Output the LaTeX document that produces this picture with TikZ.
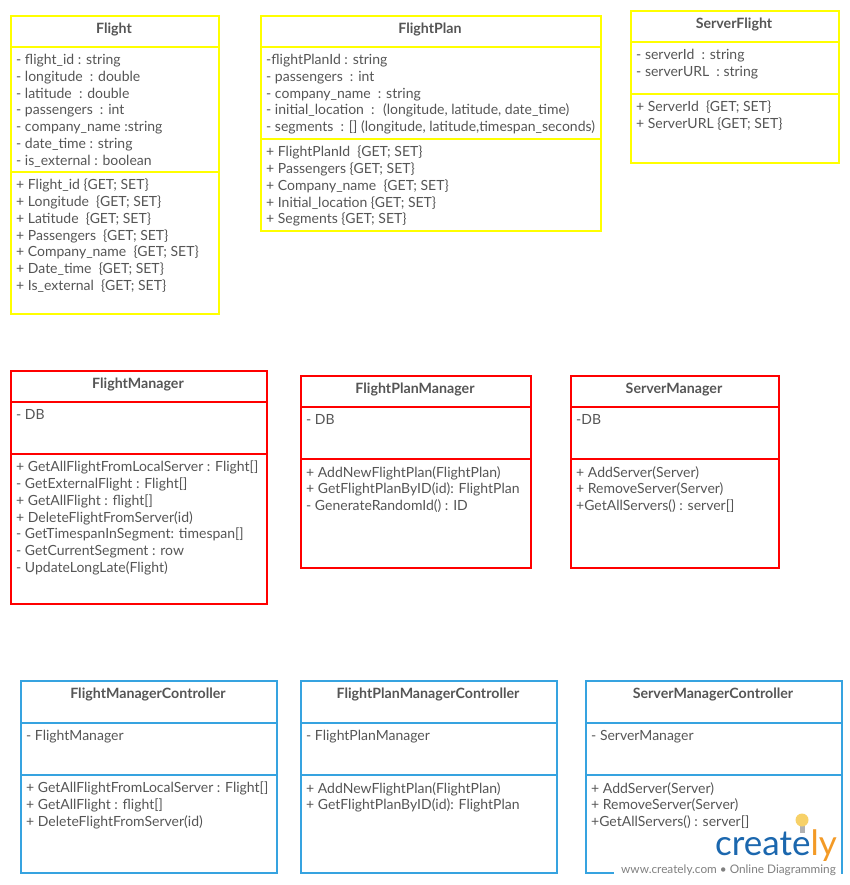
\documentclass[tikz,border=0pt]{standalone}
\usepackage{fontspec}
\setmainfont{Lato}
\usetikzlibrary{calc}
\definecolor{txtgray}{HTML}{555555}
\definecolor{flightyellow}{HTML}{FFFF00}
\definecolor{managerred}{HTML}{FF0000}
\definecolor{ctrlblue}{HTML}{36A3E0}
\definecolor{logoblue}{HTML}{1B67AE}
\definecolor{logoorange}{HTML}{F39A26}
\definecolor{bulbyellow}{HTML}{F7D168}
\tikzset{%
rowtext/.style={anchor=north west,align=left,inner sep=0pt,text=txtgray,font=\fontsize{14}{16.75}\selectfont},
titletext/.style={anchor=base,inner sep=0pt,text=txtgray,font=\fontsize{14.2}{16.8}\selectfont\bfseries},
pics/.cd,
umlclass/.style args={#1#2#3#4#5#6#7}{
  code={\node[draw=#1,line width=2pt,minimum width=#4pt,minimum height=#5pt,inner sep=0pt,outer sep=0pt,anchor=north west] (#2) at (0,0) {};
       \draw[#1,line width=2pt] ($(#2.north west)+(0,-#6pt)$) coordinate (#2a) -- (#2a -| #2.east);
       \draw[#1,line width=2pt] ($(#2.north west)+(0,-#7pt)$) coordinate (#2b) -- (#2b -| #2.east);
       \node[titletext] (#2t) at ($(#2.north)+(-1pt,-17.5pt)$) {#3};
  }
},
}
\begin{document}
\begin{tikzpicture}[x=1pt,y=-1pt]
    \useasboundingbox (0,0) rectangle (850,885);
    % data classes
    \pic at (11,16) {umlclass={flightyellow}{flight}{Flight}{208}{298}{31}{156}};
    \pic at (261,16) {umlclass={flightyellow}{plan}{FlightPlan}{340}{215}{31}{123}};
    \pic at (631,11) {umlclass={flightyellow}{server}{ServerFlight}{208}{152}{31}{83}};
    \node[rowtext] (flightr) at ($(flighta)+(5pt,-7pt)$) {- flight\_id : string\\- longitude~ : double\\- latitude~ : double\\- passengers~ : int\\- company\_name :string\\- date\_time : string\\- is\_external : boolean};
    \node[rowtext] (flights) at ($(flightb)+(5pt,-7pt)$) {+ Flight\_id \{GET; SET\}\\+ Longitude~ \{GET; SET\}\\+ Latitude~ \{GET; SET\}\\+ Passengers~ \{GET; SET\}\\+ Company\_name~ \{GET; SET\}\\+ Date\_time~ \{GET; SET\}\\+ Is\_external~ \{GET; SET\}};
    \node[rowtext] (planr) at ($(plana)+(5pt,-7pt)$) {-flightPlanId : string\\- passengers~ : int\\- company\_name~ : string\\- initial\_location~ :~ (longitude, latitude, date\_time)\\- segments~ : [] (longitude, latitude,timespan\_seconds)};
    \node[rowtext] (plans) at ($(planb)+(5pt,-7pt)$) {+ FlightPlanId~ \{GET; SET\}\\+ Passengers \{GET; SET\}\\+ Company\_name~ \{GET; SET\}\\+ Initial\_location \{GET; SET\}\\+ Segments \{GET; SET\}};
    \node[rowtext] (serverr) at ($(servera)+(5pt,-7pt)$) {- serverId~ : string\\- serverURL~ : string};
    \node[rowtext] (servers) at ($(serverb)+(5pt,-7pt)$) {+ ServerId~ \{GET; SET\}\\+ ServerURL \{GET; SET\}};
    % managers
    \pic at (11,371) {umlclass={managerred}{flightmgr}{FlightManager}{256}{233}{31}{83}};
    \pic at (301,376) {umlclass={managerred}{planmgr}{FlightPlanManager}{230}{192}{31}{83}};
    \pic at (571,376) {umlclass={managerred}{servermgr}{ServerManager}{208}{192}{31}{83}};
    \node[rowtext] (flightmgrr) at ($(flightmgra)+(5pt,-7pt)$) {- DB};
    \node[rowtext] (flightmgrs) at ($(flightmgrb)+(5pt,-7pt)$) {+ GetAllFlightFromLocalServer : Flight[]\\- GetExternalFlight : Flight[]\\+ GetAllFlight : flight[]\\+ DeleteFlightFromServer(id)\\- GetTimespanInSegment: timespan[]\\- GetCurrentSegment : row\\- UpdateLongLate(Flight)};
    \node[rowtext] (planmgrr) at ($(planmgra)+(5pt,-7pt)$) {- DB};
    \node[rowtext] (planmgrs) at ($(planmgrb)+(5pt,-7pt)$) {+ AddNewFlightPlan(FlightPlan)\\+ GetFlightPlanByID(id): FlightPlan\\- GenerateRandomId() : ID};
    \node[rowtext] (servermgrr) at ($(servermgra)+(5pt,-7pt)$) {-DB};
    \node[rowtext] (servermgrs) at ($(servermgrb)+(5pt,-7pt)$) {+ AddServer(Server)\\+ RemoveServer(Server)\\+GetAllServers() : server[]};
    % controllers
    \pic at (21,681) {umlclass={ctrlblue}{flightctrl}{FlightManagerController}{256}{192}{42}{94}};
    \pic at (301,681) {umlclass={ctrlblue}{planctrl}{FlightPlanManagerController}{256}{192}{42}{94}};
    \pic at (586,681) {umlclass={ctrlblue}{serverctrl}{ServerManagerController}{256}{192}{42}{94}};
    \node[rowtext] (flightctrlr) at ($(flightctrla)+(5pt,-7pt)$) {- FlightManager};
    \node[rowtext] (flightctrls) at ($(flightctrlb)+(5pt,-7pt)$) {+ GetAllFlightFromLocalServer : Flight[]\\+ GetAllFlight : flight[]\\+ DeleteFlightFromServer(id)};
    \node[rowtext] (planctrlr) at ($(planctrla)+(5pt,-7pt)$) {- FlightPlanManager};
    \node[rowtext] (planctrls) at ($(planctrlb)+(5pt,-7pt)$) {+ AddNewFlightPlan(FlightPlan)\\+ GetFlightPlanByID(id): FlightPlan};
    \node[rowtext] (serverctrlr) at ($(serverctrla)+(5pt,-7pt)$) {- ServerManager};
    \node[rowtext] (serverctrls) at ($(serverctrlb)+(5pt,-7pt)$) {+ AddServer(Server)\\+ RemoveServer(Server)\\+GetAllServers() : server[]};
    % watermark
    \fill[white] (614,864) rectangle (840.5,885);
    \node[anchor=base east,inner sep=0pt,font=\fontsize{35}{36}\selectfont,text=logoblue] (logo) at (837,855) {create\textcolor{logoorange}{ly}};
    \fill[gray!60] (799.5,826) rectangle (804.5,833);
    \fill[bulbyellow] (802,820) circle (6.5pt);
    \node[anchor=base east,inner sep=0pt,font=\fontsize{11.8}{12}\selectfont,text=gray] (logotag) at (836,873) {www.creately.com • Online Diagramming};
\end{tikzpicture}
\end{document}
